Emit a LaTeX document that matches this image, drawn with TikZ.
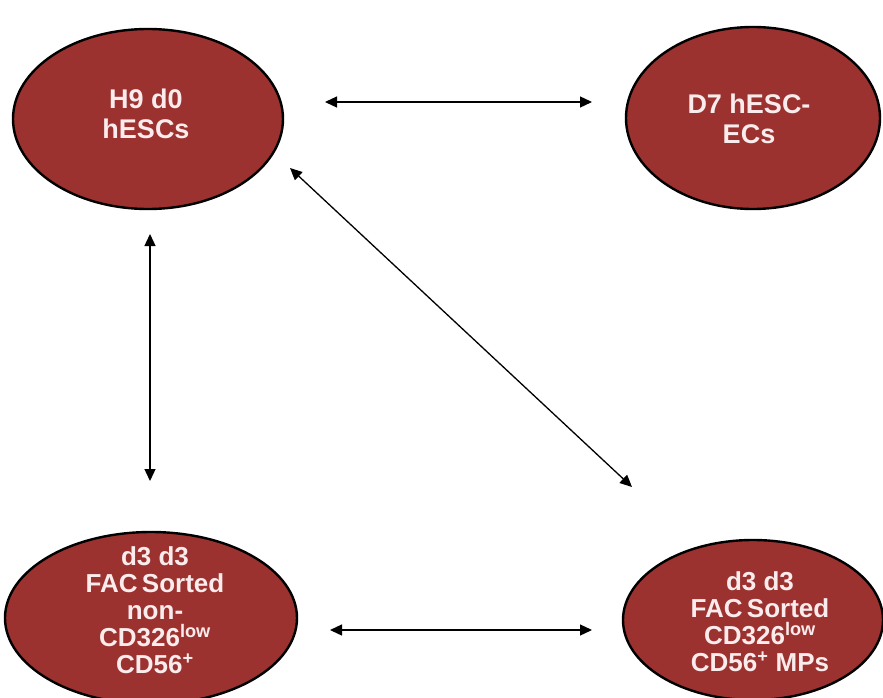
\documentclass[tikz,border=0pt]{standalone}
\usepackage{fontspec}
\setmainfont{Liberation Sans}
\usetikzlibrary{shapes.geometric,arrows.meta}
\definecolor{cellred}{RGB}{155,50,48}
\definecolor{celltext}{RGB}{250,236,236}
\tikzset{
  cell/.style={ellipse, draw=black, line width=2.4pt, fill=cellred, inner sep=0pt},
  celllabel/.style={text=celltext, font=\bfseries\fontsize{26}{27}\selectfont, align=center, inner sep=0pt},
  toplabel/.style={celllabel, font=\bfseries\fontsize{27}{30}\selectfont},
  link/.style={line width=1.3pt, {Triangle[length=12pt,width=11pt]}-{Triangle[length=12pt,width=11pt]}}
}
\begin{document}
\begin{tikzpicture}[x=1pt,y=-1pt]
  \useasboundingbox (0,0) rectangle (883,698);
  % cell populations
  \node[cell, minimum width=270pt, minimum height=180pt] (h9) at (148,119) {};
  \node[cell, minimum width=254pt, minimum height=182pt] (d7) at (753,118) {};
  \node[cell, minimum width=292pt, minimum height=172pt] (non) at (151,618) {};
  \node[cell, minimum width=260pt, minimum height=160pt] (mp) at (753,620) {};
  % labels
  \node[toplabel] (h9t) at (146,114) {H9 d0\\hESCs};
  \node[toplabel] (d7t) at (749,119) {D7 hESC-\\ECs};
  \node[celllabel] (nont) at (155,610) {d3 d3\\FAC\,Sorted\\non-\\CD326\textsuperscript{low}\\CD56\textsuperscript{+}};
  \node[celllabel] (mpt) at (760,622) {d3 d3\\FAC\,Sorted\\CD326\textsuperscript{low}\\CD56\textsuperscript{+} MPs};
  % arrow end points
  \coordinate (a1) at (325,102); \coordinate (a2) at (592,102);
  \coordinate (b1) at (150,234); \coordinate (b2) at (150,481);
  \coordinate (c1) at (290,168); \coordinate (c2) at (632,487);
  \coordinate (e1) at (330,630); \coordinate (e2) at (592,630);
  % relations
  \draw[link] (a1) -- (a2);
  \draw[link] (b1) -- (b2);
  \draw[link] (c1) -- (c2);
  \draw[link] (e1) -- (e2);
\end{tikzpicture}
\end{document}
